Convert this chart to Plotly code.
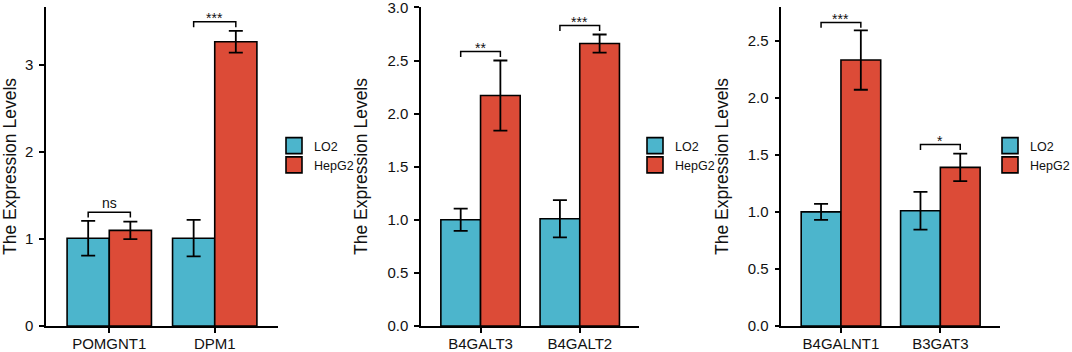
import plotly.graph_objects as go

# ---------------- data ----------------
groups = ["LO2", "HepG2"]
group_colors = ["#4CB5CC", "#DC4B37"]

p1_genes = ["POMGNT1", "DPM1"]
p1_lo2 = [1.01, 1.01]
p1_lo2_err = [0.20, 0.21]
p1_hep = [1.10, 3.27]
p1_hep_err = [0.10, 0.125]
p1_sig = ["ns", "***"]
p1_sig_y = [1.31, 3.50]

p2_genes = ["B4GALT3", "B4GALT2"]
p2_lo2 = [1.00, 1.01]
p2_lo2_err = [0.105, 0.175]
p2_hep = [2.17, 2.66]
p2_hep_err = [0.33, 0.085]
p2_sig = ["**", "***"]
p2_sig_y = [2.585, 2.83]

p3_genes = ["B4GALNT1", "B3GAT3"]
p3_lo2 = [1.00, 1.01]
p3_lo2_err = [0.07, 0.165]
p3_hep = [2.33, 1.39]
p3_hep_err = [0.26, 0.12]
p3_sig = ["***", "*"]
p3_sig_y = [2.66, 1.59]

y_max = [3.67, 3.004, 2.795]
y_dtick = [1, 0.5, 0.5]
y_fmt = ["d", ".1f", ".1f"]
y_title = "The Expression Levels"

panels = [
    (p1_genes, p1_lo2, p1_lo2_err, p1_hep, p1_hep_err, p1_sig, p1_sig_y),
    (p2_genes, p2_lo2, p2_lo2_err, p2_hep, p2_hep_err, p2_sig, p2_sig_y),
    (p3_genes, p3_lo2, p3_lo2_err, p3_hep, p3_hep_err, p3_sig, p3_sig_y),
]

# ---------------- layout constants ----------------
W, H = 1072, 352
FONT = "Liberation Sans, Arial, sans-serif"
x_dom_px = [(46, 278), (421, 639.3), (781.3, 1000)]
y_dom = [(H - 326) / H, (H - 7) / H]
legend_x_px = [274, 635, 990]
legend_top_px = 131

fig = go.Figure()
layout = dict(
    width=W, height=H,
    margin=dict(l=0, r=0, t=0, b=0, autoexpand=False),
    paper_bgcolor="white", plot_bgcolor="white",
    barmode="group", bargap=0.2, bargroupgap=0,
    font=dict(family=FONT, color="#111111"),
    showlegend=True,
)
annotations = []

for k, (genes, lo2, lo2e, hep, hepe, sig, sig_y) in enumerate(panels):
    sfx = "" if k == 0 else str(k + 1)
    xa, ya = "x" + sfx, "y" + sfx
    leg = "legend" + sfx
    pos = [i + 1 for i in range(len(genes))]

    for vals, errs, name, col in [(lo2, lo2e, groups[0], group_colors[0]),
                                  (hep, hepe, groups[1], group_colors[1])]:
        fig.add_trace(go.Bar(
            x=pos, y=vals, name=name, xaxis=xa, yaxis=ya,
            marker=dict(color=col, line=dict(color="black", width=1.6)),
            error_y=dict(type="data", array=errs, visible=True,
                         color="black", thickness=1.8, width=7),
            showlegend=False, offsetgroup=name,
        ))
        # legend entry (no data coordinates)
        fig.add_trace(go.Scatter(
            x=[None], y=[None], mode="markers", name=name,
            xaxis=xa, yaxis=ya, legend=leg,
            marker=dict(symbol="square", size=16, color=col,
                        line=dict(color="black", width=1.6)),
        ))

    drop = 0.017 * y_max[k]
    for i, (lab, sy) in enumerate(zip(sig, sig_y)):
        c = pos[i]
        fig.add_trace(go.Scatter(
            x=[c - 0.2, c - 0.2, c + 0.2, c + 0.2],
            y=[sy - drop, sy, sy, sy - drop],
            mode="lines", line=dict(color="black", width=1.5),
            xaxis=xa, yaxis=ya, showlegend=False, hoverinfo="skip",
        ))
        is_star = "*" in lab
        annotations.append(dict(
            x=c, y=sy, xref=xa, yref=ya, text=lab, showarrow=False,
            yanchor="middle", yshift=3.5 if is_star else 9,
            font=dict(family=FONT, size=14, color="#111111"),
        ))

    x0, x1 = x_dom_px[k]
    layout["xaxis" + sfx] = dict(
        domain=[x0 / W, x1 / W], anchor=ya, range=[0.4, 2.6],
        tickvals=pos, ticktext=genes, automargin=False,
        showline=True, linecolor="black", linewidth=1.5,
        ticks="outside", ticklen=5, tickwidth=1.5, tickcolor="black",
        ticklabelstandoff=-2, ticklabeloverflow="allow",
        showgrid=False, zeroline=False,
        tickfont=dict(family=FONT, size=15, color="#111111"),
    )
    layout["yaxis" + sfx] = dict(
        domain=list(y_dom), anchor=xa, range=[0, y_max[k]],
        dtick=y_dtick[k], tick0=0, tickformat=y_fmt[k], automargin=False,
        showline=True, linecolor="black", linewidth=1.5,
        ticks="outside", ticklen=5, tickwidth=1.5, tickcolor="black",
        ticklabelstandoff=3, ticklabeloverflow="allow",
        showgrid=False, zeroline=False,
        tickfont=dict(family=FONT, size=15, color="#111111"),
        title=dict(text=y_title, standoff=15,
                   font=dict(family=FONT, size=17.5, color="#111111")),
    )
    layout[leg] = dict(
        x=legend_x_px[k] / W, y=(H - legend_top_px) / H,
        xanchor="left", yanchor="top",
        bgcolor="rgba(0,0,0,0)", borderwidth=0,
        font=dict(family=FONT, size=12.5, color="#111111"),
        tracegroupgap=0,
    )

layout["annotations"] = annotations
fig.update_layout(**layout)
# remove the browser's default page margin so the figure sits at (0, 0)
fig.write_html("out.html", config={"displayModeBar": False},
               post_script="document.body.style.margin='0';")
